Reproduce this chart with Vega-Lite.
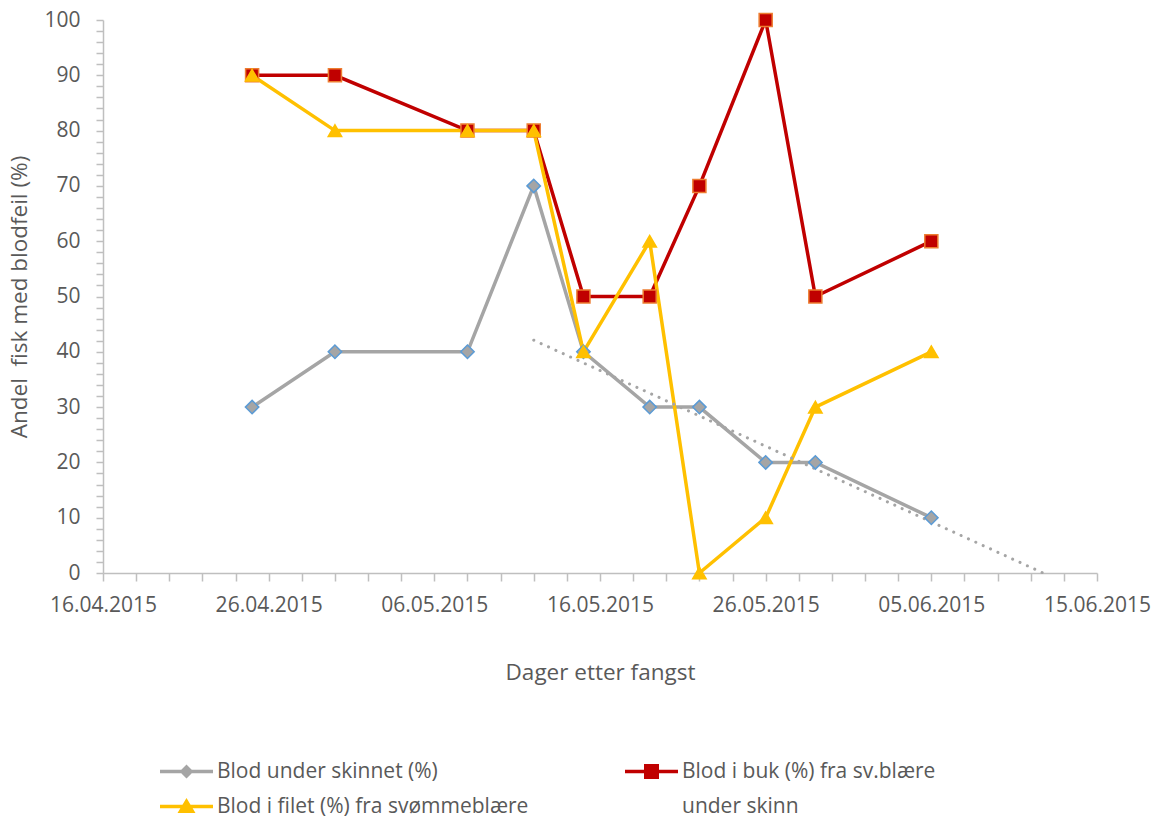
{
  "$schema": "https://vega.github.io/schema/vega-lite/v6.json",
  "width": 994,
  "height": 553,
  "autosize": {"type": "none"},
  "padding": {"left": 103, "top": 20, "right": 62, "bottom": 243},
  "background": "white",
  "config": {
    "font": "Open Sans",
    "view": {"stroke": null},
    "axis": {
      "grid": false,
      "domainColor": "#bfbfbf",
      "tickColor": "#bfbfbf",
      "domainWidth": 1.5,
      "tickWidth": 1.5,
      "labelFontSize": 21,
      "labelColor": "#595959",
      "labelFont": "Open Sans",
      "titleFont": "Open Sans",
      "titleFontSize": 22.5,
      "titleFontWeight": "normal",
      "titleColor": "#595959",
      "labelOverlap": false,
      "labelFlush": false
    },
    "legend": {
      "orient": "none",
      "title": null,
      "padding": 0,
      "symbolSize": 100,
      "symbolStrokeWidth": 0,
      "labelFont": "Open Sans",
      "labelFontSize": 21,
      "labelColor": "#595959",
      "labelOffset": 20,
      "labelLimit": 800,
      "labelBaseline": "top"
    }
  },
  "datasets": {
    "series": [
      {"date": "2015-04-25", "series": "Blod under skinnet (%)", "value": 30},
      {"date": "2015-04-30", "series": "Blod under skinnet (%)", "value": 40},
      {"date": "2015-05-08", "series": "Blod under skinnet (%)", "value": 40},
      {"date": "2015-05-12", "series": "Blod under skinnet (%)", "value": 70},
      {"date": "2015-05-15", "series": "Blod under skinnet (%)", "value": 40},
      {"date": "2015-05-19", "series": "Blod under skinnet (%)", "value": 30},
      {"date": "2015-05-22", "series": "Blod under skinnet (%)", "value": 30},
      {"date": "2015-05-26", "series": "Blod under skinnet (%)", "value": 20},
      {"date": "2015-05-29", "series": "Blod under skinnet (%)", "value": 20},
      {"date": "2015-06-05", "series": "Blod under skinnet (%)", "value": 10},
      {"date": "2015-04-25", "series": "Blod i buk (%) fra sv.blære under skinn", "value": 90},
      {"date": "2015-04-30", "series": "Blod i buk (%) fra sv.blære under skinn", "value": 90},
      {"date": "2015-05-08", "series": "Blod i buk (%) fra sv.blære under skinn", "value": 80},
      {"date": "2015-05-12", "series": "Blod i buk (%) fra sv.blære under skinn", "value": 80},
      {"date": "2015-05-15", "series": "Blod i buk (%) fra sv.blære under skinn", "value": 50},
      {"date": "2015-05-19", "series": "Blod i buk (%) fra sv.blære under skinn", "value": 50},
      {"date": "2015-05-22", "series": "Blod i buk (%) fra sv.blære under skinn", "value": 70},
      {"date": "2015-05-26", "series": "Blod i buk (%) fra sv.blære under skinn", "value": 100},
      {"date": "2015-05-29", "series": "Blod i buk (%) fra sv.blære under skinn", "value": 50},
      {"date": "2015-06-05", "series": "Blod i buk (%) fra sv.blære under skinn", "value": 60},
      {"date": "2015-04-25", "series": "Blod i filet (%) fra svømmeblære", "value": 90},
      {"date": "2015-04-30", "series": "Blod i filet (%) fra svømmeblære", "value": 80},
      {"date": "2015-05-08", "series": "Blod i filet (%) fra svømmeblære", "value": 80},
      {"date": "2015-05-12", "series": "Blod i filet (%) fra svømmeblære", "value": 80},
      {"date": "2015-05-15", "series": "Blod i filet (%) fra svømmeblære", "value": 40},
      {"date": "2015-05-19", "series": "Blod i filet (%) fra svømmeblære", "value": 60},
      {"date": "2015-05-22", "series": "Blod i filet (%) fra svømmeblære", "value": 0},
      {"date": "2015-05-26", "series": "Blod i filet (%) fra svømmeblære", "value": 10},
      {"date": "2015-05-29", "series": "Blod i filet (%) fra svømmeblære", "value": 30},
      {"date": "2015-06-05", "series": "Blod i filet (%) fra svømmeblære", "value": 40}
    ],
    "trend": [
      {"date": "2015-05-12T00:00:00Z", "value": 42.1},
      {"date": "2015-06-11T18:00:00Z", "value": 0}
    ]
  },
  "encoding": {
    "x": {
      "field": "date",
      "type": "temporal",
      "scale": {"type": "utc", "domain": [1429142400000, 1434326400000]},
      "axis": {
        "title": "Dager etter fangst",
        "values": [1429142400000, 1429315200000, 1429488000000, 1429660800000, 1429833600000, 1430006400000, 1430179200000, 1430352000000, 1430524800000, 1430697600000, 1430870400000, 1431043200000, 1431216000000, 1431388800000, 1431561600000, 1431734400000, 1431907200000, 1432080000000, 1432252800000, 1432425600000, 1432598400000, 1432771200000, 1432944000000, 1433116800000, 1433289600000, 1433462400000, 1433635200000, 1433808000000, 1433980800000, 1434153600000, 1434326400000],
        "labelExpr": "(datum.value - 1429142400000) % 864000000 === 0 ? utcFormat(datum.value, '%d.%m.%Y') : ''",
        "tickSize": 8,
        "labelPadding": 13,
        "labelAngle": 0,
        "titlePadding": 46,
        "encode": {"ticks": {"update": {"y2": {"signal": "(datum.value - 1429142400000) % 864000000 === 0 ? 8 : 5"}}}}
      }
    },
    "y": {
      "field": "value",
      "type": "quantitative",
      "scale": {"domain": [0, 100], "nice": false, "zero": true},
      "axis": {
        "title": "Andel\u00a0 fisk med blodfeil (%)",
        "values": [0, 2, 4, 6, 8, 10, 12, 14, 16, 18, 20, 22, 24, 26, 28, 30, 32, 34, 36, 38, 40, 42, 44, 46, 48, 50, 52, 54, 56, 58, 60, 62, 64, 66, 68, 70, 72, 74, 76, 78, 80, 82, 84, 86, 88, 90, 92, 94, 96, 98, 100],
        "labelExpr": "datum.value % 10 === 0 ? datum.label : ''",
        "tickSize": 7,
        "labelPadding": 16,
        "titlePadding": 12,
        "encode": {"ticks": {"update": {"x2": {"signal": "datum.value % 10 === 0 ? -7 : -5"}}}}
      }
    }
  },
  "layer": [
    {
      "data": {"name": "series"},
      "transform": [{"filter": {"field": "series", "equal": "Blod i buk (%) fra sv.blære under skinn"}}],
      "mark": {"type": "line", "strokeWidth": 3.5},
      "encoding": {
        "stroke": {
          "field": "series",
          "type": "nominal",
          "scale": {"domain": ["Blod i buk (%) fra sv.blære under skinn"], "range": ["#c00000"]},
          "legend": {
            "legendX": 538,
            "legendY": 741,
            "labelExpr": "['Blod i buk (%) fra sv.blære', 'under skinn']",
            "encode": {
              "symbols": {
                "update": {
                  "shape": {"value": "M-5.3,-0.35H5.3V0.35H-5.3Z M-1.5,-1.5H1.5V1.5H-1.5Z"},
                  "fill": {"value": "#c00000"},
                  "fillOpacity": {"value": 1},
                  "opacity": {"value": 1}
                }
              },
              "labels": {"update": {"dy": {"value": -11}, "lineHeight": {"value": 35}}}
            }
          }
        }
      }
    },
    {
      "data": {"name": "series"},
      "transform": [{"filter": {"field": "series", "oneOf": ["Blod under skinnet (%)", "Blod i filet (%) fra svømmeblære"]}}],
      "mark": {"type": "line", "strokeWidth": 3.5},
      "encoding": {
        "color": {
          "field": "series",
          "type": "nominal",
          "scale": {
            "domain": ["Blod under skinnet (%)", "Blod i filet (%) fra svømmeblære"],
            "range": ["#a5a5a5", "#ffc000"]
          },
          "legend": {
            "legendX": 73,
            "legendY": 741,
            "rowPadding": 13,
            "encode": {
              "symbols": {
                "update": {
                  "shape": {"signal": "datum.value === 'Blod under skinnet (%)' ? 'M-5.3,-0.35H5.3V0.35H-5.3Z M0,-1.4L1.4,0L0,1.4L-1.4,0Z' : 'M-5.3,-0.35H5.3V0.35H-5.3Z M0,-1.7L1.8,1.3L-1.8,1.3Z'"},
                  "fill": {"signal": "scale('color', datum.value)"},
                  "stroke": {"value": "transparent"},
                  "fillOpacity": {"value": 1},
                  "opacity": {"value": 1}
                }
              },
              "labels": {"update": {"dy": {"value": -11}}}
            }
          }
        },
        "detail": {"field": "series"}
      }
    },
    {
      "data": {"name": "trend"},
      "mark": {"type": "line", "color": "#a5a5a5", "strokeWidth": 3, "strokeDash": [0.1, 8], "strokeCap": "round"},
      "encoding": {}
    },
    {
      "data": {"name": "series"},
      "transform": [{"filter": {"field": "series", "equal": "Blod under skinnet (%)"}}],
      "mark": {"type": "point", "shape": "diamond", "filled": true, "size": 180, "fill": "#a5a5a5", "stroke": "#5b9bd5", "strokeWidth": 1.5, "opacity": 1},
      "encoding": {}
    },
    {
      "data": {"name": "series"},
      "transform": [{"filter": {"field": "series", "equal": "Blod i buk (%) fra sv.blære under skinn"}}],
      "mark": {"type": "point", "shape": "square", "filled": true, "size": 170, "fill": "#c00000", "stroke": "#ed7d31", "strokeWidth": 1.5, "opacity": 1},
      "encoding": {}
    },
    {
      "data": {"name": "series"},
      "transform": [{"filter": {"field": "series", "equal": "Blod i filet (%) fra svømmeblære"}}],
      "mark": {"type": "point", "shape": "triangle-up", "filled": true, "size": 180, "fill": "#ffc000", "stroke": "#ffc000", "strokeWidth": 1.5, "opacity": 1},
      "encoding": {}
    }
  ]
}
